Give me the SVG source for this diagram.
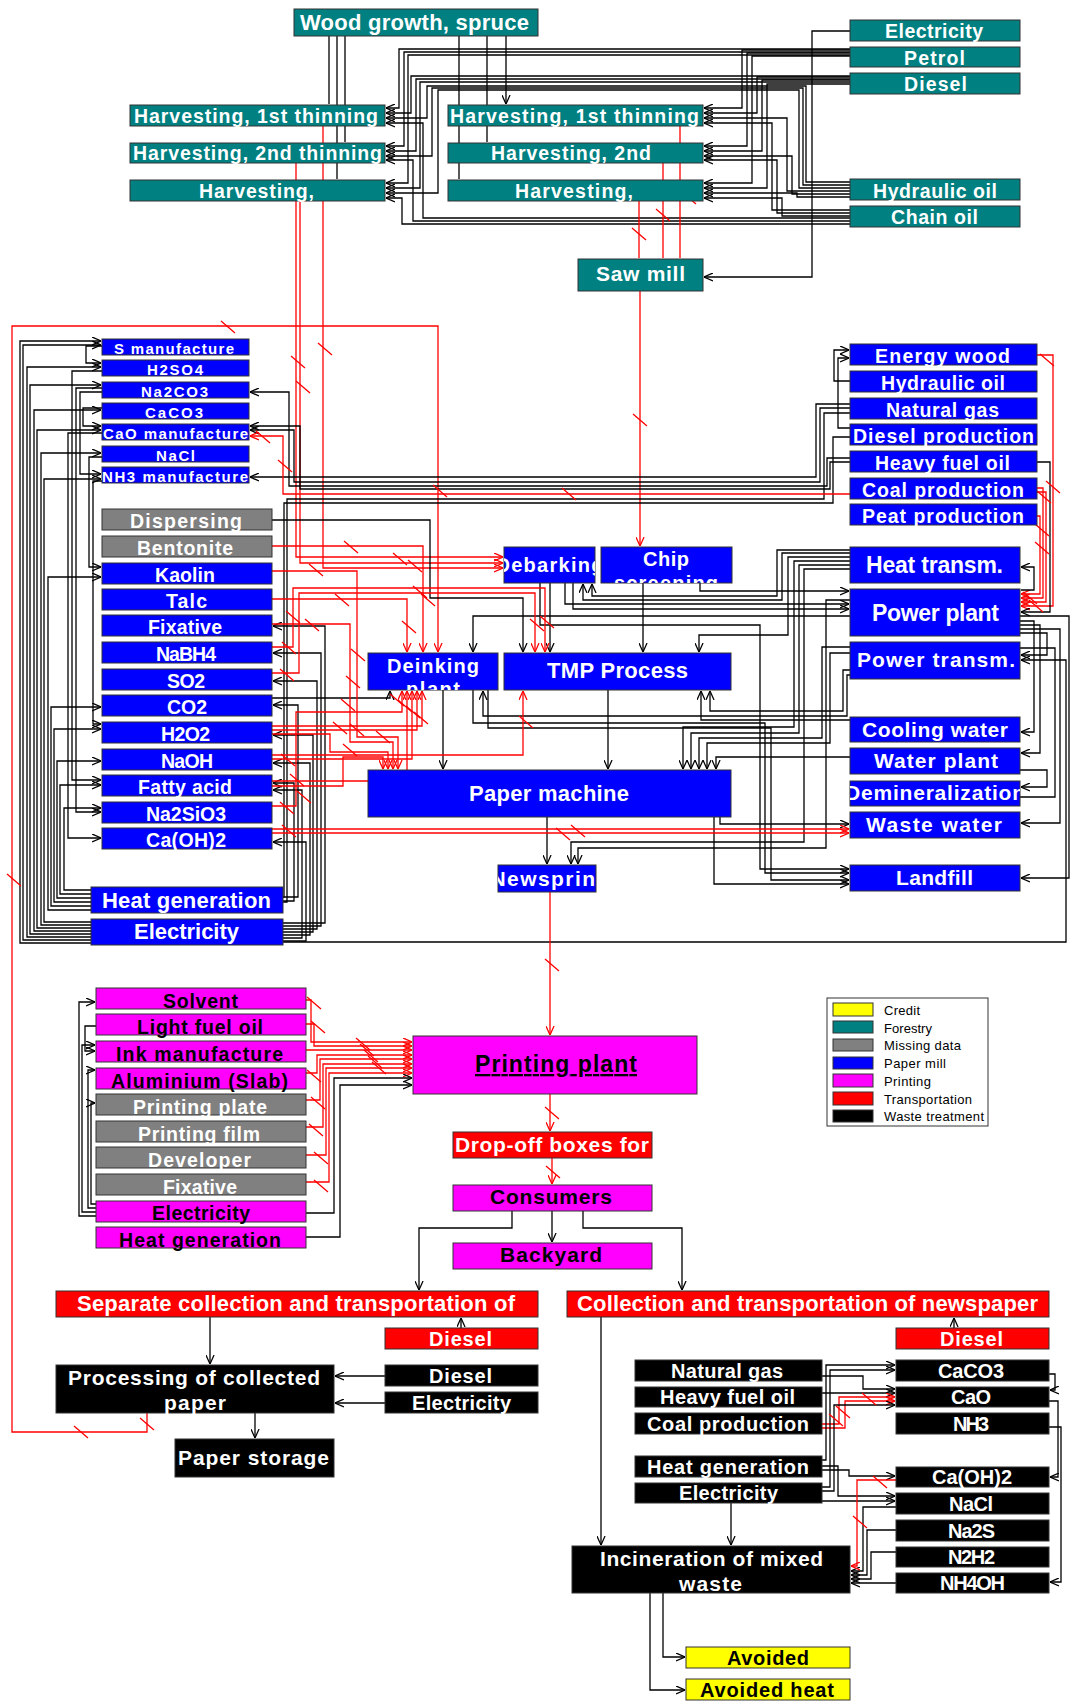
<svg xmlns="http://www.w3.org/2000/svg" width="1071" height="1701" viewBox="0 0 1071 1701">
<defs>
<style>
text{font-family:"Liberation Sans",Arial,Helvetica,sans-serif;font-weight:bold;text-anchor:middle;fill:#fff}
text.k{fill:#000}
.nd rect{stroke:#333;stroke-width:1}
.tl{fill:#008080}.bl{fill:#0000ff}.gr{fill:#808080}.mg{fill:#ff00ff}.rd{fill:#ff0000}.bk{fill:#000}.yl{fill:#ffff00}
.c path{fill:none;stroke-width:1.3}
.b{stroke:#000}.r{stroke:#f00}
.ba{stroke:#000;marker-end:url(#ab)}
.ra{stroke:#f00;marker-end:url(#ar)}
.f13{font-size:13px}.f15{font-size:15px}.f19{font-size:19.5px}.f20{font-size:20px}.f21{font-size:21px}.f22{font-size:22px}.f23{font-size:23px}
.lg text{font-weight:normal;text-anchor:start;fill:#000;font-size:13px}
.lg rect{stroke:#333;stroke-width:1}
</style>
<marker id="ab" viewBox="0 0 10 10" refX="10" refY="5" markerWidth="9" markerHeight="9" markerUnits="userSpaceOnUse" orient="auto"><path d="M0,0.5L10,5L0,9.5" fill="none" stroke="#000" stroke-width="1.4"/></marker>
<marker id="ar" viewBox="0 0 10 10" refX="10" refY="5" markerWidth="9" markerHeight="9" markerUnits="userSpaceOnUse" orient="auto"><path d="M0,0.5L10,5L0,9.5" fill="none" stroke="#f00" stroke-width="1.4"/></marker>
<clipPath id="cDebark"><rect x="504" y="547" width="91" height="36"/></clipPath>
<clipPath id="cChip"><rect x="601" y="547" width="131" height="36"/></clipPath>
<clipPath id="cDeink"><rect x="368" y="653" width="130" height="37"/></clipPath>
<clipPath id="cNews"><rect x="498" y="865" width="98" height="27"/></clipPath>
<clipPath id="cDemin"><rect x="850" y="781" width="170" height="25"/></clipPath>
</defs>
<rect x="0" y="0" width="1071" height="1701" fill="#fff"/>

<g id="connectors" class="c">
<!-- forestry: growth to harvesting -->
<path class="ba" d="M329,36V104M337,36V179M345,36V142M459,36V179M487,36V142M506,36V104"/>
<path class="ba" d="M850,31H812V277H704"/>
<!-- fuels and oils to the harvesting steps (left column) -->
<path class="ba" d="M850,49H399V108H386"/>
<path class="ba" d="M850,52H404V146H386"/>
<path class="ba" d="M850,55H408V183H386"/>
<path class="ba" d="M850,76H411V113H386"/>
<path class="ba" d="M850,79H416V151H386"/>
<path class="ba" d="M850,82H420V188H386"/>
<path class="ba" d="M850,182H806V86H427V118H386"/>
<path class="ba" d="M850,185H803V88H432V156H386"/>
<path class="ba" d="M850,188H799V90H438V193H386"/>
<path class="ba" d="M850,218H423V123H386"/>
<path class="ba" d="M850,221H413V160H386"/>
<path class="ba" d="M850,224H402V198H386"/>
<!-- fuels and oils to the harvesting steps (right column) -->
<path class="ba" d="M850,50H742V108H704"/>
<path class="ba" d="M850,53H747V146H704"/>
<path class="ba" d="M850,56H752V183H704"/>
<path class="ba" d="M850,77H757V113H704"/>
<path class="ba" d="M850,80H762V151H704"/>
<path class="ba" d="M850,84H767V188H704"/>
<path class="ba" d="M850,210H772V123H704"/>
<path class="ba" d="M850,213H777V160H704"/>
<path class="ba" d="M850,216H782V198H704"/>
<path class="ba" d="M850,191H787V118H704"/>
<path class="ba" d="M850,194H792V156H704"/>
<path class="ba" d="M850,197H797V193H704"/>
<!-- timber transport -->
<path class="ra" d="M680,126V258M663,163V258M639,201V258M640,291V546"/>
<path class="ra" d="M323,126V568H503"/>
<path class="ra" d="M296,163V557H503"/>
<path class="ra" d="M300,201V563H503"/>
<!-- recovered paper back to deinking -->
<path class="ra" d="M147,1413V1432H12V326H438V652"/>

<!-- energy supply to chemicals (left side) -->
<path class="ba" d="M91,943H20V341H101"/>
<path class="ba" d="M91,940H23V345H101"/>
<path class="ba" d="M91,937H27V367H101"/>
<path class="ba" d="M91,934H30V385H101"/>
<path class="ba" d="M91,931H34V410H101"/>
<path class="ba" d="M91,928H37V430H101"/>
<path class="ba" d="M91,925H41V453H101"/>
<path class="ba" d="M91,922H44V479H101"/>
<path class="ba" d="M91,910H48V577H101"/>
<path class="ba" d="M91,906H51V707H101"/>
<path class="ba" d="M91,902H54V729H101"/>
<path class="ba" d="M91,898H57V761H101"/>
<path class="ba" d="M91,894H60V785H101"/>
<path class="ba" d="M91,890H64V808H101"/>
<path class="ba" d="M102,433H68V838H101"/>
<path class="ba" d="M102,371H72V780H101"/>
<path class="ba" d="M102,388H76V812H101"/>
<path class="ba" d="M102,392H80V474H101"/>
<path class="ba" d="M102,408H83V426H101"/>
<path class="ba" d="M102,346H86V363H101"/>
<path class="ba" d="M102,457H89V567H101"/>
<path class="ba" d="M102,481H93V724H101"/>
<!-- energy supply to chemicals (right side) -->
<path class="ba" d="M283,923H325V626H273"/>
<path class="ba" d="M283,926H321V653H273"/>
<path class="ba" d="M283,929H317V681H273"/>
<path class="ba" d="M283,932H313V735H273"/>
<path class="ba" d="M283,935H310V763H273"/>
<path class="ba" d="M283,941H306V842H273"/>
<path class="ba" d="M283,938H302V790H273"/>
<path class="ba" d="M283,897H298V705H273"/>
<path class="ba" d="M283,901H294V783H273"/>
<!-- fuels to heat generation and chemical production -->
<path class="b" d="M850,413H824V499H287V902H283"/>
<path class="b" d="M850,437H833V503H284V897H283"/>
<path class="ba" d="M850,404H816V477H250"/>
<path class="ba" d="M850,408H820V482H294V430H250"/>
<path class="ba" d="M850,458H827V486H289V392H250"/>
<path class="ba" d="M850,462H830V489H300V426H250"/>
<path class="ba" d="M850,381H834V350H849"/>
<path class="ba" d="M850,428H838V358H849"/>
<path class="ra" d="M850,494H283V436H250"/>

<!-- power plant and utilities -->
<path class="ra" d="M1037,355H1053V606H1021"/>
<path class="ra" d="M1037,488H1043V598H1021"/>
<path class="ra" d="M1037,492H1046V602H1021"/>
<path class="ra" d="M1037,516H1040V594H1021"/>
<path class="ba" d="M1037,462H1050V612H1021"/>
<path class="ba" d="M1021,590H1034V567H1021"/>
<path class="ba" d="M1020,616H1069V878H1021"/>
<path class="ba" d="M1020,621H1034V732H1021"/>
<path class="ba" d="M1020,625H1040V753H1021"/>
<path class="ba" d="M1020,629H1060V823H1021"/>
<path class="ba" d="M1020,633H1047V655H1021"/>
<path class="ba" d="M283,942H1066V660H1021"/>
<path class="ba" d="M1020,770H1047V787H1021"/>
<path class="b" d="M1020,797H1055V648H1020"/>

<!-- heat and power to the process units -->
<path class="ba" d="M850,550H777V596H592V584"/>
<path class="ba" d="M850,553H782V600H583V584"/>
<path class="ba" d="M850,557H788V635H699V652"/>
<path class="ba" d="M850,561H794V727H683V769"/>
<path class="ba" d="M850,565H799V733H691V769"/>
<path class="ba" d="M850,569H804V842H571V864"/>
<path class="ba" d="M850,600H826V848H578V864"/>
<path class="ba" d="M700,583V591H849"/>
<path class="ba" d="M565,583V604H849"/>
<path class="ba" d="M573,583V609H849"/>
<path class="ba" d="M643,583V652"/>
<path class="ba" d="M550,583V652"/>
<path class="ba" d="M272,520H430V598H523V652"/>
<path class="ba" d="M272,698H390V691"/>
<path class="ba" d="M850,616H473V652"/>
<path class="ba" d="M443,690V769"/>
<path class="ba" d="M608,690V769"/>
<path class="ba" d="M850,647H822V738H699V769"/>
<path class="ba" d="M850,653H830V743H707V769"/>
<path class="ba" d="M850,670H843V711H710V691"/>
<path class="ba" d="M850,720H701V691"/>
<path class="ba" d="M850,757H716V769"/>
<path class="ba" d="M850,675H847V716H483V691"/>
<path class="ba" d="M473,690V723H765V873H849"/>
<path class="ba" d="M488,690V728H771V880H849"/>
<path class="ba" d="M540,583V625H760V869H849"/>
<path class="ba" d="M714,817V884H849"/>
<path class="ba" d="M720,817V824H849"/>
<path class="ba" d="M547,817V864"/>

<!-- chemicals and fillers to the process units -->
<path class="ra" d="M272,546H423V652"/>
<path class="ra" d="M272,599H407V652"/>
<path class="ra" d="M272,571H357V737H398V769"/>
<path class="ra" d="M272,624H350V742H393V769"/>
<path class="ra" d="M272,647H293V588H545V652"/>
<path class="ra" d="M272,673H299V593H535V652"/>
<path class="ra" d="M272,726H422V691"/>
<path class="ra" d="M272,730H417V691"/>
<path class="ra" d="M272,755H523V691"/>
<path class="ra" d="M272,759H412V691"/>
<path class="ra" d="M272,781H407V691"/>
<path class="ra" d="M272,806H296V712H402V691"/>
<path class="ra" d="M272,734H330V752H388V769"/>
<path class="ra" d="M272,786H343V757H383V769"/>
<path class="ra" d="M272,829H849"/>
<path class="ra" d="M272,833H849"/>

<!-- printing -->
<path class="ra" d="M550,892V1035"/>
<path class="ba" d="M96,1216H79V1002H95"/>
<path class="ba" d="M96,1212H82V1045H95"/>
<path class="ba" d="M96,1208H88V1070H95"/>
<path class="ba" d="M96,1204H91V1103H95"/>
<path class="ba" d="M96,1026H85V1051H95"/>
<path class="ra" d="M306,1000H311V1042H412"/>
<path class="ra" d="M306,1024H314V1046H412"/>
<path class="ra" d="M306,1050H412"/>
<path class="ra" d="M306,1073H317V1055H412"/>
<path class="ra" d="M306,1100H320V1059H412"/>
<path class="ra" d="M306,1127H323V1064H412"/>
<path class="ra" d="M306,1155H326V1068H412"/>
<path class="ra" d="M306,1182H329V1073H412"/>
<path class="ba" d="M306,1213H334V1078H412"/>
<path class="ba" d="M306,1237H340V1085H412"/>
<path class="ra" d="M550,1094V1131"/>
<path class="ra" d="M552,1158V1184"/>

<!-- end of life -->
<path class="ba" d="M552,1211V1242"/>
<path class="ba" d="M512,1211V1228H419V1290"/>
<path class="ba" d="M583,1211V1228H682V1290"/>
<path class="ba" d="M461,1328V1318"/>
<path class="ba" d="M954,1328V1318"/>
<path class="ba" d="M210,1317V1364"/>
<path class="ba" d="M385,1376H335"/>
<path class="ba" d="M385,1403H335"/>
<path class="ba" d="M255,1413V1438"/>
<path class="ba" d="M601,1317V1545"/>
<path class="ba" d="M731,1503V1545"/>
<path class="ba" d="M663,1593V1657H685"/>
<path class="ba" d="M650,1593V1690H685"/>
<path class="ba" d="M822,1376H863V1389H895"/>
<path class="ba" d="M822,1393H895"/>
<path class="ra" d="M822,1424H839V1397H895"/>
<path class="ra" d="M822,1428H845V1401H895"/>
<path class="ba" d="M822,1460H826V1365H895"/>
<path class="ba" d="M822,1487H830V1370H895"/>
<path class="ba" d="M822,1491H834V1405H895"/>
<path class="ba" d="M822,1466H838V1496H895"/>
<path class="ba" d="M822,1501H895"/>
<path class="ba" d="M822,1470H849V1476H895"/>
<path class="ba" d="M1049,1374H1055V1390H1050"/>
<path class="ba" d="M1049,1401H1058V1477H1050"/>
<path class="ba" d="M1049,1427H1061V1582H1050"/>
<path class="ba" d="M896,1583H851"/>
<path class="ba" d="M896,1552H871V1579H851"/>
<path class="ba" d="M896,1530H867V1575H851"/>
<path class="ba" d="M896,1507H863V1571H851"/>
<path class="ra" d="M896,1480H857V1566H851"/>

<!-- transport marks on the red flows -->
<path class="r" d="M656,209l14,12M632,228l14,12M682,192l14,12M633,414l14,12M318,343l14,12M291,356l14,12M296,381l14,12M221,321l14,12M7,874l14,12M74,1426l14,12M140,1418l14,12M433,485l14,12M256,431l14,12M278,460l14,12M562,488l14,12M1040,354l14,12M1046,481l14,12M1037,491l14,12M1035,524l14,12M1035,542l14,12M1023,592l14,12M1029,600l14,12"/>
<path class="r" d="M344,541l14,12M309,564l14,12M393,553l14,12M408,560l14,12M335,594l14,12M413,586l14,12M421,594l14,12M402,621l14,12M286,611l14,12M305,619l14,12M282,642l14,12M280,669l14,12M346,676l14,12M341,699l14,12M333,722l14,12M343,744l14,12M281,754l14,12M290,774l14,12M297,791l14,12M280,802l14,12M282,825l14,12M530,619l14,12M540,616l14,12M351,649l14,12M376,731l14,12M350,724l14,12M390,694l14,12M398,700l14,12M406,706l14,12M414,712l14,12M519,716l14,12M556,828l14,12M571,825l14,12"/>
<path class="r" d="M307,997l14,12M311,1021l14,12M307,1070l14,12M311,1097l14,12M309,1124l14,12M314,1152l14,12M314,1180l14,12M356,1038l14,12M360,1044l14,12M364,1050l14,12M368,1056l14,12M372,1062l14,12M545,959l14,12M545,1107l14,12M546,1166l14,12M829,1414l14,12M836,1406l14,12M862,1393l14,12M873,1476l14,12M853,1516l14,12"/>
</g>

<!-- forestry -->
<g class="nd">
<g id="wood-growth"><rect class="tl" x="294" y="9" width="244" height="27"/><text class="f22" x="414.5" y="30" textLength="229">Wood growth, spruce</text></g>
<g id="harv-1st-a"><rect class="tl" x="130" y="105" width="255" height="21"/><text class="f19" x="256" y="123" textLength="244">Harvesting, 1st thinning</text></g>
<g id="harv-2nd-a"><rect class="tl" x="130" y="143" width="255" height="20"/><text class="f19" x="257.5" y="160" textLength="249">Harvesting, 2nd thinning</text></g>
<g id="harv-final-a"><rect class="tl" x="130" y="180" width="255" height="21"/><text class="f19" x="256.5" y="198" textLength="115">Harvesting,</text></g>
<g id="harv-1st-b"><rect class="tl" x="448" y="105" width="255" height="21"/><text class="f19" x="574.5" y="123" textLength="249">Harvesting, 1st thinning</text></g>
<g id="harv-2nd-b"><rect class="tl" x="448" y="143" width="255" height="20"/><text class="f19" x="571" y="160" textLength="160">Harvesting, 2nd</text></g>
<g id="harv-final-b"><rect class="tl" x="448" y="180" width="255" height="21"/><text class="f19" x="574" y="198" textLength="118">Harvesting,</text></g>
<g id="f-electricity"><rect class="tl" x="850" y="20" width="170" height="21"/><text class="f19" x="934" y="38" textLength="98">Electricity</text></g>
<g id="f-petrol"><rect class="tl" x="850" y="47" width="170" height="20"/><text class="f19" x="934.5" y="64.5" textLength="61">Petrol</text></g>
<g id="f-diesel"><rect class="tl" x="850" y="73" width="170" height="21"/><text class="f19" x="935.5" y="91" textLength="63">Diesel</text></g>
<g id="f-hydraulic"><rect class="tl" x="850" y="179" width="170" height="21"/><text class="f19" x="935" y="197.5" textLength="124">Hydraulic oil</text></g>
<g id="f-chain"><rect class="tl" x="850" y="206" width="170" height="21"/><text class="f19" x="934.5" y="224" textLength="87">Chain oil</text></g>
<g id="saw-mill"><rect class="tl" x="578" y="259" width="125" height="32"/><text class="f21" x="640.5" y="281" textLength="89">Saw mill</text></g>
</g>

<!-- paper mill: chemicals -->
<g class="nd">
<g id="s-manufacture"><rect class="bl" x="102" y="339" width="147" height="16"/><text class="f15" x="174" y="353.5" textLength="120">S manufacture</text></g>
<g id="h2so4"><rect class="bl" x="102" y="360" width="147" height="16"/><text class="f15" x="175" y="374.5" textLength="56">H2SO4</text></g>
<g id="na2co3"><rect class="bl" x="102" y="382" width="147" height="16"/><text class="f15" x="174.5" y="396.5" textLength="67">Na2CO3</text></g>
<g id="caco3"><rect class="bl" x="102" y="403" width="147" height="16"/><text class="f15" x="174" y="417.5" textLength="58">CaCO3</text></g>
<g id="cao-manufacture"><rect class="bl" x="102" y="424" width="147" height="16"/><text class="f15" x="175.5" y="438.5" textLength="145">CaO manufacture</text></g>
<g id="nacl"><rect class="bl" x="102" y="446" width="147" height="16"/><text class="f15" x="175.5" y="460.5" textLength="39">NaCl</text></g>
<g id="nh3-manufacture"><rect class="bl" x="102" y="467" width="147" height="16"/><text class="f15" x="175" y="481.5" textLength="146">NH3 manufacture</text></g>
<g id="dispersing"><rect class="gr" x="102" y="509" width="170" height="21"/><text class="f19" x="186" y="527.5" textLength="112">Dispersing</text></g>
<g id="bentonite"><rect class="gr" x="102" y="536" width="170" height="21"/><text class="f19" x="185" y="554.5" textLength="96">Bentonite</text></g>
<g id="kaolin"><rect class="bl" x="102" y="563" width="170" height="21"/><text class="f19" x="185" y="581.5" textLength="60">Kaolin</text></g>
<g id="talc"><rect class="bl" x="102" y="589" width="170" height="21"/><text class="f19" x="186.5" y="607.5" textLength="41">Talc</text></g>
<g id="fixative-pm"><rect class="bl" x="102" y="615" width="170" height="21"/><text class="f19" x="185" y="633.5" textLength="74">Fixative</text></g>
<g id="nabh4"><rect class="bl" x="102" y="642" width="170" height="21"/><text class="f19" x="186" y="660.5" textLength="60">NaBH4</text></g>
<g id="so2"><rect class="bl" x="102" y="669" width="170" height="21"/><text class="f19" x="186" y="687.5" textLength="38">SO2</text></g>
<g id="co2"><rect class="bl" x="102" y="695" width="170" height="21"/><text class="f19" x="187" y="713.5" textLength="40">CO2</text></g>
<g id="h2o2"><rect class="bl" x="102" y="722" width="170" height="21"/><text class="f19" x="185.5" y="740.5" textLength="49">H2O2</text></g>
<g id="naoh"><rect class="bl" x="102" y="749" width="170" height="21"/><text class="f19" x="187" y="767.5" textLength="52">NaOH</text></g>
<g id="fatty-acid"><rect class="bl" x="102" y="775" width="170" height="21"/><text class="f19" x="185" y="793.5" textLength="94">Fatty acid</text></g>
<g id="na2sio3"><rect class="bl" x="102" y="802" width="170" height="21"/><text class="f19" x="186" y="820.5" textLength="80">Na2SiO3</text></g>
<g id="caoh2-pm"><rect class="bl" x="102" y="828" width="170" height="21"/><text class="f19" x="186" y="846.5" textLength="80">Ca(OH)2</text></g>
<g id="heat-generation-pm"><rect class="bl" x="91" y="887" width="192" height="26"/><text class="f22" x="186.5" y="907.5" textLength="169">Heat generation</text></g>
<g id="electricity-pm"><rect class="bl" x="91" y="919" width="192" height="26"/><text class="f22" x="186.5" y="939" textLength="105">Electricity</text></g>
</g>

<!-- paper mill: energy and utilities -->
<g class="nd">
<g id="energy-wood"><rect class="bl" x="850" y="344" width="187" height="21"/><text class="f19" x="942.5" y="362.5" textLength="135">Energy wood</text></g>
<g id="hydraulic-oil-pm"><rect class="bl" x="850" y="371" width="187" height="21"/><text class="f19" x="943" y="389.5" textLength="124">Hydraulic oil</text></g>
<g id="natural-gas-pm"><rect class="bl" x="850" y="398" width="187" height="21"/><text class="f19" x="942.5" y="416.5" textLength="113">Natural gas</text></g>
<g id="diesel-production"><rect class="bl" x="850" y="424" width="187" height="21"/><text class="f19" x="943.5" y="442.5" textLength="181">Diesel production</text></g>
<g id="heavy-fuel-oil-pm"><rect class="bl" x="850" y="451" width="187" height="21"/><text class="f19" x="942.5" y="469.5" textLength="135">Heavy fuel oil</text></g>
<g id="coal-production-pm"><rect class="bl" x="850" y="478" width="187" height="21"/><text class="f19" x="943" y="496.5" textLength="162">Coal production</text></g>
<g id="peat-production"><rect class="bl" x="850" y="504" width="187" height="21"/><text class="f19" x="943" y="522.5" textLength="162">Peat production</text></g>
<g id="heat-transm"><rect class="bl" x="850" y="547" width="170" height="36"/><text class="f23" x="934.5" y="573" textLength="137">Heat transm.</text></g>
<g id="power-plant"><rect class="bl" x="850" y="589" width="170" height="47"/><text class="f23" x="935.5" y="620.5" textLength="127">Power plant</text></g>
<g id="power-transm"><rect class="bl" x="850" y="642" width="170" height="37"/><text class="f21" x="936" y="667" textLength="158">Power transm.</text></g>
<g id="cooling-water"><rect class="bl" x="850" y="717" width="170" height="25"/><text class="f21" x="935" y="737" textLength="146">Cooling water</text></g>
<g id="water-plant"><rect class="bl" x="850" y="748" width="170" height="26"/><text class="f21" x="936" y="768" textLength="124">Water plant</text></g>
<g id="demineralization"><rect class="bl" x="850" y="781" width="170" height="25"/><text class="f21" x="935" y="800" textLength="180" clip-path="url(#cDemin)">Demineralization</text></g>
<g id="waste-water"><rect class="bl" x="850" y="812" width="170" height="26"/><text class="f21" x="934" y="832" textLength="136">Waste water</text></g>
<g id="landfill"><rect class="bl" x="850" y="865" width="170" height="26"/><text class="f21" x="934.5" y="885" textLength="77">Landfill</text></g>
</g>

<!-- paper mill: process line -->
<g class="nd">
<g id="debarking"><rect class="bl" x="504" y="547" width="91" height="36"/><text class="f20" x="549.5" y="572" textLength="108" clip-path="url(#cDebark)">Debarking</text></g>
<g id="chip-screening"><rect class="bl" x="601" y="547" width="131" height="36"/><text class="f20" x="666" y="566" textLength="46" clip-path="url(#cChip)">Chip</text><text class="f20" x="666" y="589.5" textLength="104" clip-path="url(#cChip)">screening</text></g>
<g id="deinking-plant"><rect class="bl" x="368" y="653" width="130" height="37"/><text class="f20" x="433" y="673" textLength="92" clip-path="url(#cDeink)">Deinking</text><text class="f20" x="433" y="696" textLength="54" clip-path="url(#cDeink)">plant</text></g>
<g id="tmp-process"><rect class="bl" x="504" y="653" width="227" height="37"/><text class="f22" x="617.5" y="678" textLength="141">TMP Process</text></g>
<g id="paper-machine"><rect class="bl" x="368" y="770" width="363" height="47"/><text class="f22" x="549" y="801" textLength="160">Paper machine</text></g>
<g id="newsprint"><rect class="bl" x="498" y="865" width="98" height="27"/><text class="f21" x="547" y="886" textLength="113" clip-path="url(#cNews)">Newsprint</text></g>
</g>

<!-- printing -->
<g class="nd">
<g id="solvent"><rect class="mg" x="96" y="988" width="210" height="21"/><text class="f19 k" x="200.5" y="1007.5" textLength="75">Solvent</text></g>
<g id="light-fuel-oil"><rect class="mg" x="96" y="1014" width="210" height="21"/><text class="f19 k" x="200" y="1033.5" textLength="126">Light fuel oil</text></g>
<g id="ink-manufacture"><rect class="mg" x="96" y="1041" width="210" height="21"/><text class="f19 k" x="199.5" y="1060.5" textLength="167">Ink manufacture</text></g>
<g id="aluminium-slab"><rect class="mg" x="96" y="1068" width="210" height="21"/><text class="f19 k" x="199.5" y="1087.5" textLength="177">Aluminium (Slab)</text></g>
<g id="printing-plate"><rect class="gr" x="96" y="1094" width="210" height="21"/><text class="f19" x="200" y="1113.5" textLength="134">Printing plate</text></g>
<g id="printing-film"><rect class="gr" x="96" y="1121" width="210" height="21"/><text class="f19" x="199" y="1140.5" textLength="122">Printing film</text></g>
<g id="developer"><rect class="gr" x="96" y="1147" width="210" height="21"/><text class="f19" x="199.5" y="1166.5" textLength="103">Developer</text></g>
<g id="fixative-pr"><rect class="gr" x="96" y="1174" width="210" height="21"/><text class="f19" x="200" y="1193.5" textLength="74">Fixative</text></g>
<g id="electricity-pr"><rect class="mg" x="96" y="1201" width="210" height="21"/><text class="f19 k" x="201" y="1220" textLength="98">Electricity</text></g>
<g id="heat-generation-pr"><rect class="mg" x="96" y="1227" width="210" height="21"/><text class="f19 k" x="200" y="1246.5" textLength="162">Heat generation</text></g>
<g id="printing-plant"><rect class="mg" x="413" y="1036" width="284" height="58"/><text class="f23 k" x="556" y="1072" textLength="162" text-decoration="underline">Printing plant</text></g>
<g id="drop-off-boxes"><rect class="rd" x="453" y="1132" width="199" height="26"/><text class="f21" x="552" y="1152" textLength="194">Drop-off boxes for</text></g>
<g id="consumers"><rect class="mg" x="453" y="1185" width="199" height="26"/><text class="f21 k" x="551" y="1204" textLength="122">Consumers</text></g>
<g id="backyard"><rect class="mg" x="453" y="1243" width="199" height="26"/><text class="f21 k" x="551" y="1262" textLength="102">Backyard</text></g>
</g>

<!-- waste treatment -->
<g class="nd">
<g id="separate-collection"><rect class="rd" x="56" y="1291" width="482" height="26"/><text class="f22" x="296" y="1311" textLength="438">Separate collection and transportation of</text></g>
<g id="diesel-sc"><rect class="rd" x="385" y="1328" width="153" height="21"/><text class="f20" x="460.5" y="1346" textLength="63">Diesel</text></g>
<g id="processing-collected"><rect class="bk" x="56" y="1365" width="278" height="48"/><text class="f21" x="194" y="1385" textLength="252">Processing of collected</text><text class="f21" x="195" y="1410" textLength="62">paper</text></g>
<g id="diesel-proc"><rect class="bk" x="385" y="1365" width="153" height="21"/><text class="f20" x="460.5" y="1383" textLength="63">Diesel</text></g>
<g id="electricity-proc"><rect class="bk" x="385" y="1392" width="153" height="21"/><text class="f20" x="461.5" y="1410" textLength="99">Electricity</text></g>
<g id="paper-storage"><rect class="bk" x="175" y="1439" width="159" height="38"/><text class="f21" x="253.5" y="1465" textLength="151">Paper storage</text></g>
<g id="collection-newspaper"><rect class="rd" x="567" y="1291" width="482" height="26"/><text class="f22" x="807.5" y="1311" textLength="461">Collection and transportation of newspaper</text></g>
<g id="diesel-cn"><rect class="rd" x="896" y="1328" width="153" height="21"/><text class="f20" x="971.5" y="1346" textLength="63">Diesel</text></g>
<g id="natural-gas-w"><rect class="bk" x="635" y="1360" width="187" height="21"/><text class="f20" x="727" y="1378" textLength="112">Natural gas</text></g>
<g id="heavy-fuel-oil-w"><rect class="bk" x="635" y="1387" width="187" height="20"/><text class="f20" x="727.5" y="1404" textLength="135">Heavy fuel oil</text></g>
<g id="coal-production-w"><rect class="bk" x="635" y="1413" width="187" height="21"/><text class="f20" x="728" y="1431" textLength="162">Coal production</text></g>
<g id="heat-generation-w"><rect class="bk" x="635" y="1456" width="187" height="21"/><text class="f20" x="728" y="1474" textLength="162">Heat generation</text></g>
<g id="electricity-w"><rect class="bk" x="635" y="1483" width="187" height="20"/><text class="f20" x="728.5" y="1500" textLength="99">Electricity</text></g>
<g id="caco3-w"><rect class="bk" x="896" y="1360" width="153" height="21"/><text class="f20" x="971" y="1378" textLength="66">CaCO3</text></g>
<g id="cao-w"><rect class="bk" x="896" y="1387" width="153" height="20"/><text class="f20" x="971" y="1404" textLength="40">CaO</text></g>
<g id="nh3-w"><rect class="bk" x="896" y="1413" width="153" height="21"/><text class="f20" x="971" y="1431" textLength="36">NH3</text></g>
<g id="caoh2-w"><rect class="bk" x="896" y="1467" width="153" height="20"/><text class="f20" x="972" y="1484" textLength="80">Ca(OH)2</text></g>
<g id="nacl-w"><rect class="bk" x="896" y="1493" width="153" height="21"/><text class="f20" x="971" y="1511" textLength="44">NaCl</text></g>
<g id="na2s-w"><rect class="bk" x="896" y="1520" width="153" height="21"/><text class="f20" x="971.5" y="1538" textLength="47">Na2S</text></g>
<g id="n2h2-w"><rect class="bk" x="896" y="1547" width="153" height="20"/><text class="f20" x="971.5" y="1564" textLength="47">N2H2</text></g>
<g id="nh4oh-w"><rect class="bk" x="896" y="1573" width="153" height="20"/><text class="f20" x="972.5" y="1590" textLength="65">NH4OH</text></g>
<g id="incineration"><rect class="bk" x="572" y="1546" width="278" height="47"/><text class="f21" x="711.5" y="1566" textLength="223">Incineration of mixed</text><text class="f21" x="710.5" y="1591" textLength="63">waste</text></g>
<g id="avoided"><rect class="yl" x="686" y="1647" width="164" height="21"/><text class="f20 k" x="768" y="1665" textLength="82">Avoided</text></g>
<g id="avoided-heat"><rect class="yl" x="686" y="1679" width="164" height="21"/><text class="f20 k" x="767" y="1697" textLength="134">Avoided heat</text></g>
</g>

<!-- legend -->
<g id="legend" class="lg">
<rect x="827" y="998" width="161" height="128" fill="#fff"/>
<rect class="yl" x="833" y="1003" width="40" height="13"/><text x="884" y="1015" textLength="36">Credit</text>
<rect class="tl" x="833" y="1021" width="40" height="12"/><text x="884" y="1033" textLength="48">Forestry</text>
<rect class="gr" x="833" y="1039" width="40" height="12"/><text x="884" y="1050" textLength="77">Missing data</text>
<rect class="bl" x="833" y="1057" width="40" height="12"/><text x="884" y="1068" textLength="62">Paper mill</text>
<rect class="mg" x="833" y="1074" width="40" height="13"/><text x="884" y="1086" textLength="47">Printing</text>
<rect class="rd" x="833" y="1092" width="40" height="13"/><text x="884" y="1104" textLength="88">Transportation</text>
<rect class="bk" x="833" y="1110" width="40" height="12"/><text x="884" y="1121" textLength="100">Waste treatment</text>
</g>
</svg>
